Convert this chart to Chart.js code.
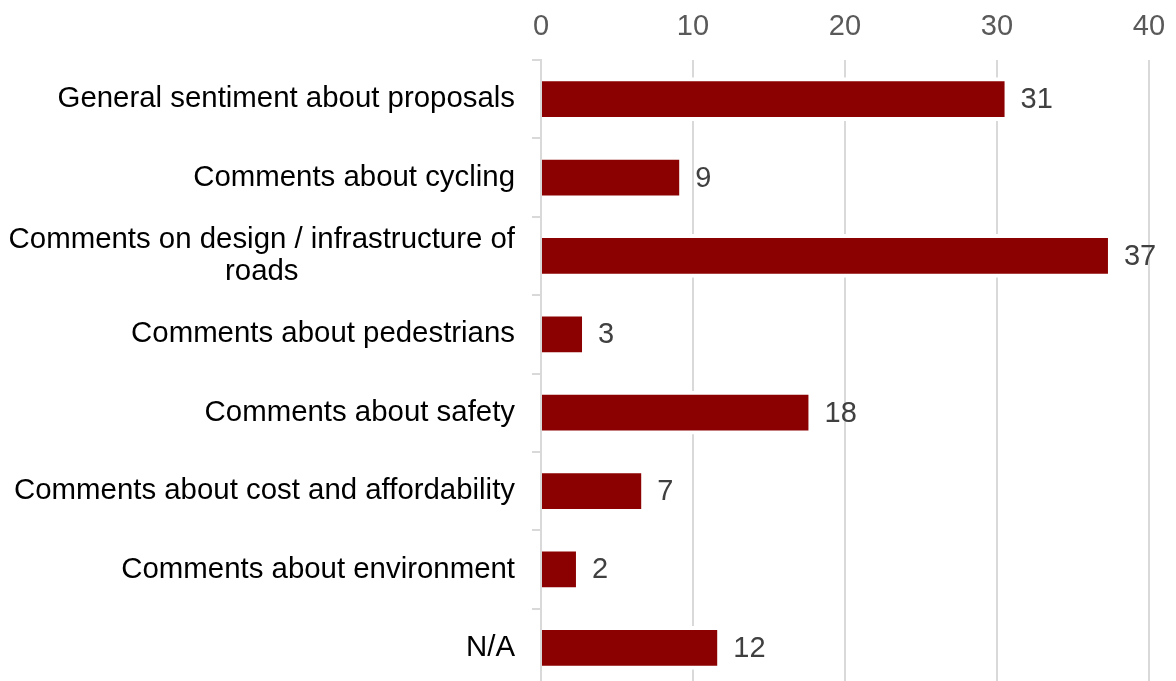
<!DOCTYPE html>
<html>
<head>
<meta charset="utf-8">
<script src="https://cdn.jsdelivr.net/npm/chart.js@4"></script>
<style>
  html, body { margin: 0; padding: 0; background: #fff; overflow: hidden; }
  #wrap { width: 1176px; height: 681px; overflow: hidden; }
</style>
</head>
<body>
<div id="wrap"><canvas id="barGraph" width="1176" height="700"></canvas></div>
<script>
// categories, top to bottom (the long one wraps on two lines)
const categories = [
  'General sentiment about proposals',
  'Comments about cycling',
  ['Comments on design / infrastructure of', 'roads'],
  'Comments about pedestrians',
  'Comments about safety',
  'Comments about cost and affordability',
  'Comments about environment',
  'N/A'
];
// bar lengths (labels show them rounded)
const values = [30.5, 9.1, 37.3, 2.7, 17.6, 6.6, 2.3, 11.6];
const xTicks = [0, 10, 20, 30, 40];

const fontFamily = '"Liberation Sans", Arial, sans-serif';
const gridColor = '#d9d9d9';

// draw the category labels ourselves so the wrapped one is centred like the original
const categoryLabels = {
  id: 'categoryLabels',
  afterDraw(chart) {
    const ctx = chart.ctx;
    const yScale = chart.scales.y;
    const right = chart.chartArea.left - 26;
    ctx.save();
    ctx.font = '29.4px ' + fontFamily;
    ctx.fillStyle = '#000000';
    ctx.textBaseline = 'middle';
    categories.forEach((c, i) => {
      const y = yScale.getPixelForValue(i);
      const lines = Array.isArray(c) ? c : [c];
      if (lines.length === 1) {
        ctx.textAlign = 'right';
        ctx.fillText(lines[0], right, y);
        return;
      }
      const maxW = Math.max(...lines.map(l => ctx.measureText(l).width));
      ctx.textAlign = 'center';
      lines.forEach((l, k) => {
        ctx.fillText(l, right - maxW / 2, y + (k - (lines.length - 1) / 2) * 32);
      });
    });
    ctx.restore();
  }
};

// value labels at the end of each bar
const valueLabels = {
  id: 'valueLabels',
  afterDatasetsDraw(chart) {
    const ctx = chart.ctx;
    const meta = chart.getDatasetMeta(0);
    ctx.save();
    ctx.font = '29px ' + fontFamily;
    ctx.fillStyle = '#404040';
    ctx.textAlign = 'left';
    ctx.textBaseline = 'middle';
    meta.data.forEach((bar, i) => {
      ctx.fillText(String(Math.round(values[i])), bar.x + 16, bar.y + 1);
    });
    ctx.restore();
  }
};

const barConfig = {
  type: 'bar',
  data: {
    labels: categories,
    datasets: [{
      data: values,
      backgroundColor: '#8b0000',
      borderColor: '#ffffff',
      borderWidth: { top: 4, bottom: 4, left: 0, right: 0 },
      borderSkipped: 'start',
      barThickness: 43
    }]
  },
  options: {
    indexAxis: 'y',
    responsive: false,
    animation: false,
    layout: { padding: { left: 0, right: 27, top: 0, bottom: 13 } },
    plugins: { legend: { display: false }, tooltip: { enabled: false } },
    scales: {
      x: {
        position: 'top',
        min: xTicks[0],
        max: xTicks[xTicks.length - 1],
        afterBuildTicks: s => { s.ticks = xTicks.map(v => ({ value: v })); },
        afterFit: s => { s.height = 60; s.paddingLeft = 0; s.paddingRight = 0; },
        grid: { color: gridColor, lineWidth: 2, drawTicks: false },
        border: { display: false },
        ticks: {
          color: '#595959',
          padding: 16,
          font: { family: fontFamily, size: 29 }
        }
      },
      y: {
        z: 1,
        afterFit: s => { s.width = 541; },
        grid: { color: gridColor, lineWidth: 2, drawOnChartArea: false, drawTicks: true, tickLength: 9 },
        border: { display: true, color: gridColor, width: 2 },
        ticks: { display: false }
      }
    }
  },
  plugins: [categoryLabels, valueLabels]
};

const barCtx = document.getElementById('barGraph').getContext('2d');
const barChart = new Chart(barCtx, barConfig);
</script>
</body>
</html>
